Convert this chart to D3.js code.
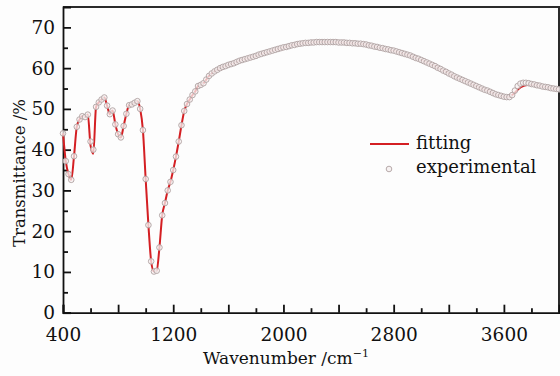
<!DOCTYPE html>
<html>
<head>
<meta charset="utf-8">
<script src="https://cdn.jsdelivr.net/npm/d3@7"></script>
<style>
    body { margin: 0; background: #fdfdfd; }
    svg { display: block; }
    text { font-family: "DejaVu Serif", serif; fill: #111; }
</style>
</head>
<body>
<script>
// IR spectrum: experimental points every 20 cm-1 from 400 to 4000
var wnStart = 400,
    wnStep = 20;

var transmittance = [
    44.0, 37.2, 34.0, 32.6, 38.4, 45.6, 47.4, 48.2, 48.0, 48.6,   // 400-580
    42.0, 40.0, 50.5, 51.6, 52.3, 52.8, 50.8, 48.7, 49.6, 46.2,   // 600-780
    43.8, 43.0, 45.8, 48.8, 50.9, 51.1, 51.5, 51.9, 50.0, 44.8,   // 800-980
    32.8, 21.5, 12.6, 10.1, 10.3, 16.0, 23.9, 26.9, 30.0, 32.1,   // 1000-1180
    35.0, 38.3, 42.0, 46.0, 49.5, 51.2, 52.3, 53.4, 54.3, 55.6,   // 1200-1380
    55.9, 56.3, 57.2, 58.1, 58.7, 59.2, 59.6, 60.0, 60.3, 60.5,   // 1400-1580
    60.8, 61.0, 61.2, 61.5, 61.8, 62.0, 62.2, 62.4, 62.6, 62.8,   // 1600-1780
    63.0, 63.3, 63.5, 63.7, 63.9, 64.1, 64.3, 64.5, 64.7, 64.9,   // 1800-1980
    65.1, 65.2, 65.4, 65.6, 65.7, 65.9, 66.0, 66.1, 66.2, 66.2,   // 2000-2180
    66.3, 66.3, 66.4, 66.4, 66.4, 66.4, 66.4, 66.4, 66.4, 66.4,   // 2200-2380
    66.3, 66.3, 66.3, 66.2, 66.2, 66.1, 66.1, 66.0, 66.0, 65.9,   // 2400-2580
    65.8, 65.6, 65.5, 65.3, 65.2, 65.0, 64.9, 64.7, 64.6, 64.4,   // 2600-2780
    64.3, 64.1, 63.9, 63.7, 63.5, 63.3, 63.1, 62.8, 62.5, 62.3,   // 2800-2980
    62.0, 61.7, 61.4, 61.1, 60.8, 60.5, 60.1, 59.8, 59.4, 59.1,   // 3000-3180
    58.7, 58.4, 58.0, 57.7, 57.4, 57.1, 56.8, 56.5, 56.2, 55.9,   // 3200-3380
    55.6, 55.3, 55.0, 54.7, 54.5, 54.2, 53.9, 53.6, 53.4, 53.2,   // 3400-3580
    53.0, 52.9, 52.9, 53.4, 54.5, 55.6, 56.2, 56.4, 56.4, 56.3,   // 3600-3780
    56.1, 56.0, 55.8, 55.7, 55.5, 55.4, 55.3, 55.1, 55.0, 54.9,   // 3800-3980
    54.8                                                          // 4000
];

// fitted curve follows the points, except where it visibly departs
var fitOverrideWn = [600, 620, 3680, 3700, 3720, 3740, 3760, 3780, 3800];
var fitOverrideT = [41.0, 39.0, 54.0, 54.7, 55.3, 55.6, 55.8, 55.9, 55.9];

var xMajor = [400, 1200, 2000, 2800, 3600];
var xMid = [800, 1600, 2400, 3200];
var yMajor = [0, 10, 20, 30, 40, 50, 60, 70];
var yMinor = [5, 15, 25, 35, 45, 55, 65];

var width = 560,
    height = 376;
var margin = {top: 7, right: 1, bottom: 63.3, left: 63};

var points = transmittance.map(function(t, i) {
    return {wn: wnStart + i * wnStep, t: t};
});
var fitPoints = points.map(function(d) {
    var k = fitOverrideWn.indexOf(d.wn);
    return {wn: d.wn, t: k >= 0 ? fitOverrideT[k] : d.t};
});

var x = d3.scaleLinear()
    .domain([400, 4000])
    .range([margin.left, width - margin.right]);

var y = d3.scaleLinear()
    .domain([0, 75])
    .range([height - margin.bottom, margin.top]);

var svg = d3.select("body").append("svg")
    .attr("width", width)
    .attr("height", height);

// frame top and right
svg.append("path")
    .attr("d", "M" + x(400) + "," + y(75) + "H" + x(4000) + "V" + y(0))
    .attr("fill", "none")
    .attr("stroke", "#2a2a2a")
    .attr("stroke-width", 2);

// x axis
var xAxis = svg.append("g")
    .attr("transform", "translate(0," + y(0) + ")");
xAxis.call(d3.axisBottom(x)
    .tickValues(xMajor)
    .tickSize(-8)
    .tickPadding(15)
    .tickFormat(d3.format("d")));
xAxis.append("g").call(d3.axisBottom(x)
    .tickValues(xMid).tickSize(-8).tickFormat(""))
    .select(".domain").remove();
xAxis.append("g").call(d3.axisBottom(x)
    .tickValues(d3.range(600, 4000, 400)).tickSize(-4.5).tickFormat(""))
    .select(".domain").remove();

// y axis
var yAxis = svg.append("g")
    .attr("transform", "translate(" + x(400) + ",0)");
yAxis.call(d3.axisLeft(y)
    .tickValues(yMajor)
    .tickSize(-8)
    .tickPadding(8));
yAxis.append("g").call(d3.axisLeft(y)
    .tickValues(yMinor).tickSize(-5).tickFormat(""))
    .select(".domain").remove();

svg.selectAll(".domain, .tick line")
    .attr("stroke", "#111")
    .attr("stroke-width", 1.8);
svg.selectAll(".tick text")
    .attr("font-size", 18.5)
    .attr("font-family", "DejaVu Serif, serif")
    .attr("fill", "#111");

// fitting line
var line = d3.line()
    .x(function(d) { return x(d.wn); })
    .y(function(d) { return y(d.t); })
    .curve(d3.curveMonotoneX);

svg.append("path")
    .datum(fitPoints)
    .attr("d", line)
    .attr("fill", "none")
    .attr("stroke", "#d41f23")
    .attr("stroke-width", 2);

// experimental points
svg.append("g").selectAll("circle")
    .data(points)
    .enter().append("circle")
    .attr("cx", function(d) { return x(d.wn); })
    .attr("cy", function(d) { return y(d.t); })
    .attr("r", 2.8)
    .attr("fill", "#f7f2f2")
    .attr("fill-opacity", 0.75)
    .attr("stroke", "#b0a2a2")
    .attr("stroke-width", 0.9);

// legend
var legend = svg.append("g");
legend.append("line")
    .attr("x1", 370).attr("x2", 409)
    .attr("y1", 144).attr("y2", 144)
    .attr("stroke", "#d41f23")
    .attr("stroke-width", 2);
legend.append("text")
    .attr("x", 416).attr("y", 149)
    .attr("font-size", 18)
    .text("fitting");
legend.append("circle")
    .attr("cx", 389).attr("cy", 169)
    .attr("r", 2.8)
    .attr("fill", "#f7f2f2")
    .attr("stroke", "#b0a2a2")
    .attr("stroke-width", 0.9);
legend.append("text")
    .attr("x", 416).attr("y", 173)
    .attr("font-size", 18)
    .text("experimental");

// axis titles
var xTitle = svg.append("text")
    .attr("x", 286).attr("y", 364)
    .attr("text-anchor", "middle")
    .attr("font-size", 17);
xTitle.append("tspan").text("Wavenumber /cm");
xTitle.append("tspan")
    .attr("dy", -7)
    .attr("font-size", 11)
    .text("\u22121");

svg.append("text")
    .attr("transform", "translate(25,173) rotate(-90)")
    .attr("text-anchor", "middle")
    .attr("font-size", 16.5)
    .text("Transmittance /%");
</script>
</body>
</html>
